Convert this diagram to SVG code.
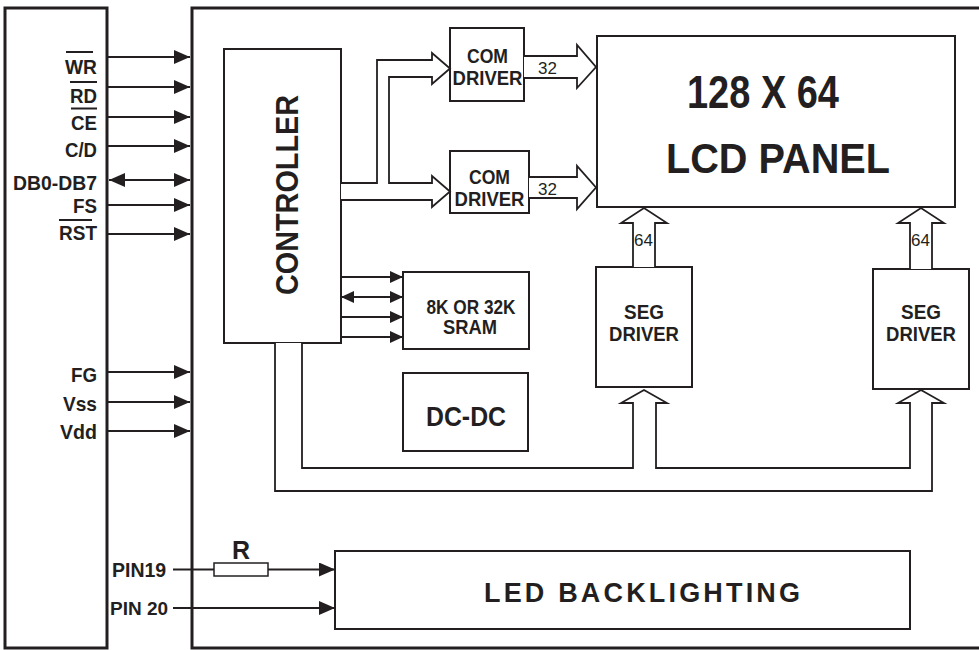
<svg xmlns="http://www.w3.org/2000/svg" width="979" height="650" viewBox="0 0 979 650">
<style>
.frame{fill:none;stroke:#231f20;stroke-width:3}
.box{fill:#fff;stroke:#231f20;stroke-width:2}
.ln{fill:none;stroke:#231f20;stroke-width:1.8}
.bus{fill:#fff;stroke:#231f20;stroke-width:1.8;stroke-linejoin:miter}
.ov{stroke:#231f20;stroke-width:2}
text{font-family:"Liberation Sans",Arial,sans-serif;fill:#231f20}
.b{font-weight:bold}
.lbl{font-weight:bold;font-size:21px;text-anchor:end}
.c{text-anchor:middle}
.n{font-size:17px}
</style>
<defs>
<marker id="ah" markerUnits="userSpaceOnUse" markerWidth="16" markerHeight="14" refX="16" refY="7" orient="auto-start-reverse"><path d="M0,0 L16,7 L0,14 z" fill="#231f20"/></marker>
<marker id="as" markerUnits="userSpaceOnUse" markerWidth="13" markerHeight="12" refX="13" refY="6" orient="auto-start-reverse"><path d="M0,0 L13,6 L0,12 z" fill="#231f20"/></marker>
</defs>

<g id="host-connector">
<rect class="frame" x="5" y="8" width="102" height="640"/>
<text class="lbl" x="97" y="74" textLength="32" lengthAdjust="spacingAndGlyphs">WR</text>
<line class="ov" x1="66" y1="52" x2="93" y2="52"/>
<text class="lbl" x="97" y="103" textLength="27" lengthAdjust="spacingAndGlyphs">RD</text>
<line class="ov" x1="70" y1="82" x2="97" y2="82"/>
<text class="lbl" x="97" y="130" textLength="26" lengthAdjust="spacingAndGlyphs">CE</text>
<line class="ov" x1="71" y1="108.5" x2="97" y2="108.5"/>
<text class="lbl" x="97" y="157" textLength="32" lengthAdjust="spacingAndGlyphs">C/D</text>
<text class="lbl" x="97" y="190" textLength="84" lengthAdjust="spacingAndGlyphs">DB0-DB7</text>
<text class="lbl" x="97" y="213" textLength="24" lengthAdjust="spacingAndGlyphs">FS</text>
<text class="lbl" x="97" y="240" textLength="38" lengthAdjust="spacingAndGlyphs">RST</text>
<line class="ov" x1="59" y1="220" x2="92" y2="220"/>
<text class="lbl" x="97" y="382" textLength="26" lengthAdjust="spacingAndGlyphs">FG</text>
<text class="lbl" x="97" y="411" textLength="34" lengthAdjust="spacingAndGlyphs">Vss</text>
<text class="lbl" x="97" y="439" textLength="37" lengthAdjust="spacingAndGlyphs">Vdd</text>
<text class="b" x="112" y="577" font-size="19.5">PIN19</text>
<text class="b" x="110" y="615" font-size="19">PIN 20</text>
</g>

<g id="module">
<rect class="frame" x="192" y="8" width="800" height="640"/>
</g>

<g id="controller">
<rect class="box" x="224" y="49" width="117" height="294"/>
<text class="b c" font-size="31" transform="translate(298,195) rotate(-90)" textLength="200" lengthAdjust="spacingAndGlyphs">CONTROLLER</text>
</g>

<g id="com-driver-1">
<rect class="box" x="450" y="28" width="74" height="73"/>
<text class="b c" font-size="20" x="487.5" y="63" textLength="41" lengthAdjust="spacingAndGlyphs">COM</text>
<text class="b c" font-size="20" x="487.5" y="85" textLength="70" lengthAdjust="spacingAndGlyphs">DRIVER</text>
</g>

<g id="com-driver-2">
<rect class="box" x="450" y="151" width="79" height="62"/>
<text class="b c" font-size="20" x="489.5" y="184" textLength="41" lengthAdjust="spacingAndGlyphs">COM</text>
<text class="b c" font-size="20" x="489.5" y="206" textLength="70" lengthAdjust="spacingAndGlyphs">DRIVER</text>
</g>

<g id="lcd-panel">
<rect class="box" x="597" y="36" width="358" height="171"/>
<text class="b c" font-size="46" x="763" y="108" textLength="152" lengthAdjust="spacingAndGlyphs">128 X 64</text>
<text class="b c" font-size="43" x="778" y="173" textLength="224" lengthAdjust="spacingAndGlyphs">LCD PANEL</text>
</g>

<g id="sram">
<rect class="box" x="403" y="272" width="126" height="77"/>
<text class="b c" font-size="20" x="471" y="314" textLength="89" lengthAdjust="spacingAndGlyphs">8K OR 32K</text>
<text class="b c" font-size="20" x="470" y="334" textLength="54" lengthAdjust="spacingAndGlyphs">SRAM</text>
</g>

<g id="dc-dc">
<rect class="box" x="403" y="373" width="125" height="78"/>
<text class="b c" font-size="27" x="466" y="426" textLength="80" lengthAdjust="spacingAndGlyphs">DC-DC</text>
</g>

<g id="seg-driver-1">
<rect class="box" x="596" y="267" width="96" height="120"/>
<text class="b c" font-size="20" x="644" y="319" textLength="40" lengthAdjust="spacingAndGlyphs">SEG</text>
<text class="b c" font-size="20" x="644" y="341" textLength="70" lengthAdjust="spacingAndGlyphs">DRIVER</text>
</g>

<g id="seg-driver-2">
<rect class="box" x="873" y="269" width="96" height="120"/>
<text class="b c" font-size="20" x="921" y="319" textLength="40" lengthAdjust="spacingAndGlyphs">SEG</text>
<text class="b c" font-size="20" x="921" y="341" textLength="70" lengthAdjust="spacingAndGlyphs">DRIVER</text>
</g>

<g id="led-backlighting">
<rect class="box" x="335" y="551" width="575" height="78"/>
<text class="b c" font-size="27" x="642" y="602" textLength="316" lengthAdjust="spacing">LED BACKLIGHTING</text>
</g>

<g id="connectors">
<line class="ln" x1="107" y1="57" x2="190" y2="57" marker-end="url(#ah)"/>
<line class="ln" x1="107" y1="87" x2="190" y2="87" marker-end="url(#ah)"/>
<line class="ln" x1="107" y1="117" x2="190" y2="117" marker-end="url(#ah)"/>
<line class="ln" x1="107" y1="146" x2="190" y2="146" marker-end="url(#ah)"/>
<line class="ln" x1="109" y1="180" x2="190" y2="180" marker-start="url(#ah)" marker-end="url(#ah)"/>
<line class="ln" x1="107" y1="205" x2="190" y2="205" marker-end="url(#ah)"/>
<line class="ln" x1="107" y1="234" x2="190" y2="234" marker-end="url(#ah)"/>
<line class="ln" x1="107" y1="372" x2="190" y2="372" marker-end="url(#ah)"/>
<line class="ln" x1="107" y1="402" x2="190" y2="402" marker-end="url(#ah)"/>
<line class="ln" x1="107" y1="431" x2="190" y2="431" marker-end="url(#ah)"/>

<path class="bus" d="M341,183 H377 V60 H432 V53 L450,68.5 L432,84 V77 H389 V183 H432 V176 L450,191.5 L432,207 V200 H341"/>
<path class="bus" d="M524,56 H577 V45 L596,67 L577,88 V78 H524"/>
<text class="n" x="538" y="74">32</text>
<path class="bus" d="M529,177 H577 V166 L596,187.5 L577,209 V198 H529"/>
<text class="n" x="538" y="195">32</text>
<path class="bus" d="M633,267 V223 H621 L644,208 L667,223 H655 V267"/>
<text class="n" x="634" y="246">64</text>
<path class="bus" d="M910,269 V223 H898 L921,208 L944,223 H932 V269"/>
<text class="n" x="911" y="246">64</text>
<path class="bus" d="M275,343 V491 H932 V403 H944 L921,390 L898,403 H910 V468 H656 V403 H667 L644,390 L621,403 H633 V468 H302 V343"/>

<line class="ln" x1="341" y1="277" x2="403" y2="277" marker-end="url(#as)"/>
<line class="ln" x1="341" y1="297" x2="403" y2="297" marker-start="url(#as)" marker-end="url(#as)"/>
<line class="ln" x1="341" y1="317" x2="403" y2="317" marker-end="url(#as)"/>
<line class="ln" x1="341" y1="337" x2="403" y2="337" marker-end="url(#as)"/>

<line class="ln" x1="173" y1="569.5" x2="214" y2="569.5"/>
<rect x="214" y="563" width="54" height="13" fill="#fff" stroke="#231f20" stroke-width="1.5"/>
<text class="b c" font-size="25" x="241" y="559">R</text>
<line class="ln" x1="268" y1="569.5" x2="335" y2="569.5" marker-end="url(#ah)"/>
<line class="ln" x1="173" y1="608" x2="335" y2="608" marker-end="url(#ah)"/>
</g>
</svg>
